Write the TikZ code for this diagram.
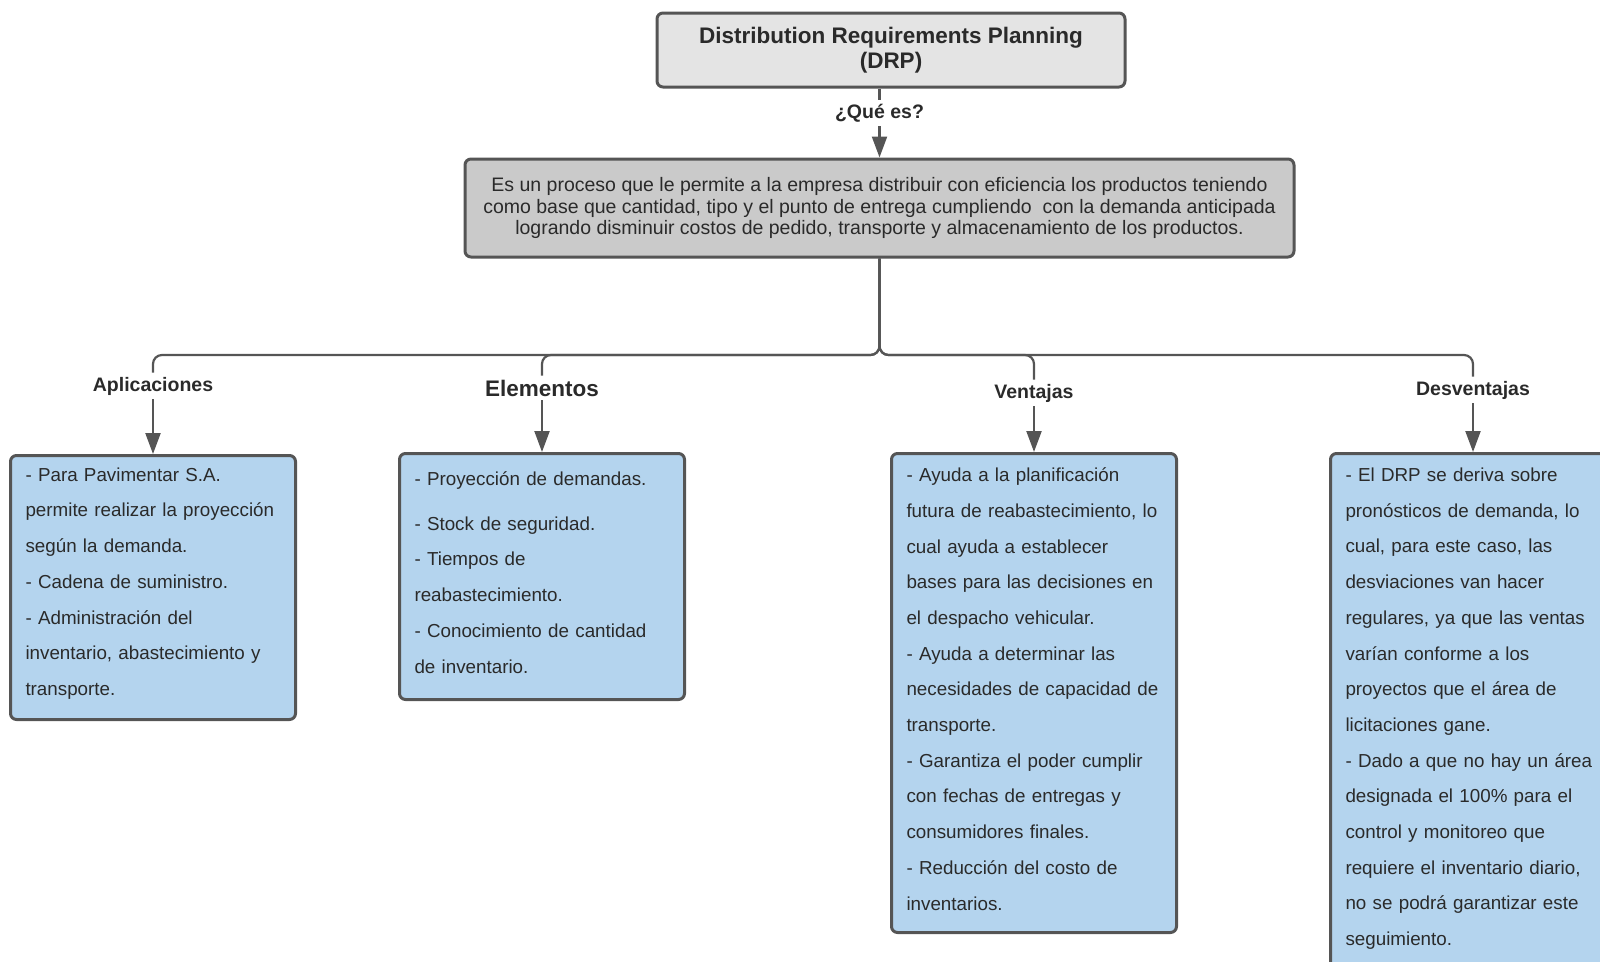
\documentclass[tikz,border=0pt]{standalone}
\usepackage{fontspec}
\setmainfont{Liberation Sans}
\usetikzlibrary{arrows.meta,calc}
\definecolor{edge}{HTML}{555555}
\definecolor{ink}{HTML}{2A2A2A}
\definecolor{titlefill}{HTML}{E4E4E4}
\definecolor{descfill}{HTML}{CACACA}
\definecolor{leaffill}{HTML}{B4D4EE}
% extra space under the last line of a list box
\newcommand\leafgap{\par\vspace{8pt}}

\begin{document}
\begin{tikzpicture}[x=1pt,y=-1pt,
  box/.style={draw=edge, line width=3pt, rounded corners=6pt, text=ink},
  titlebox/.style={box, fill=titlefill, font=\bfseries\fontsize{22.5}{25.5}\selectfont,
    align=center, minimum width=468pt, minimum height=74pt, inner sep=0pt},
  descbox/.style={box, fill=descfill, font=\fontsize{19.5}{21.4}\selectfont,
    align=center, minimum width=829pt, minimum height=98pt, inner sep=0pt},
  leaf/.style={box, fill=leaffill, font=\fontsize{18.8}{35.7}\selectfont,
    align=left, text width=255pt, inner xsep=15pt, inner ysep=0pt,
    minimum width=285pt, anchor=north, execute at end node=\leafgap},
  lbl/.style={font=\bfseries\fontsize{19.5}{22}\selectfont, text=ink, inner sep=4pt},
  conn/.style={draw=edge, line width=2.2pt, rounded corners=9pt},
  arr/.style={draw=edge, line width=2.2pt, -{Triangle[width=15pt,length=21pt]}},
]
\useasboundingbox (0,0) rectangle (1600,961);

% top of the map
\node[titlebox] (title) at (891,50) {Distribution Requirements Planning\\(DRP)};
\node[lbl] (q) at (879.5,113) {¿Qué es?};
\node[descbox] (desc) at (879.5,208) {Es un proceso que le permite a la empresa distribuir con eficiencia los productos teniendo\\
como base que cantidad, tipo y el punto de entrega cumpliendo\ \ con la demanda anticipada\\
logrando disminuir costos de pedido, transporte y almacenamiento de los productos.};
\draw[conn] (title.south -| q.north) -- (q.north);
\draw[arr] (q.south) -- (desc.north);

% branch labels
\node[lbl] (lA) at (153,386) {Aplicaciones};
\node[lbl, font=\bfseries\fontsize{22.5}{25}\selectfont] (lE) at (542,388) {Elementos};
\node[lbl] (lV) at (1034,393) {Ventajas};
\node[lbl] (lD) at (1473,390) {Desventajas};

% bus points
\coordinate (busA) at (153,355);
\coordinate (busE) at (542,355);
\coordinate (busV) at (1034,355);
\coordinate (busD) at (1473,355);

% leaf boxes
\node[leaf, minimum height=264pt] (bA) at (153,454) {- Para Pavimentar S.A.\\
permite realizar la proyección\\
según la demanda.\\
- Cadena de suministro.\\
- Administración del\\
inventario, abastecimiento y\\
transporte.};

\node[leaf, minimum height=246pt, execute at end node={}] (bE) at (542,452) {- Proyección de demandas.\\[9pt]
- Stock de seguridad.\\
- Tiempos de\\
reabastecimiento.\\
- Conocimiento de cantidad\\
de inventario.};

\node[leaf, minimum height=479pt] (bV) at (1034,452) {- Ayuda a la planificación\\
futura de reabastecimiento, lo\\
cual ayuda a establecer\\
bases para las decisiones en\\
el despacho vehicular.\\
- Ayuda a determinar las\\
necesidades de capacidad de\\
transporte.\\
- Garantiza el poder cumplir\\
con fechas de entregas y\\
consumidores finales.\\
- Reducción del costo de\\
inventarios.};

\node[leaf, minimum height=586pt] (bD) at (1473,452) {- El DRP se deriva sobre\\
pronósticos de demanda, lo\\
cual, para este caso, las\\
desviaciones van hacer\\
regulares, ya que las ventas\\
varían conforme a los\\
proyectos que el área de\\
licitaciones gane.\\
- Dado a que no hay un área\\
designada el 100\% para el\\
control y monitoreo que\\
requiere el inventario diario,\\
no se podrá garantizar este\\
seguimiento.\\
\mbox{}\\
\mbox{}};

% connectors
\draw[conn] (desc.south) |- (busA) -- (lA.north);
\draw[conn] (desc.south) |- (busE) -- (lE.north);
\draw[conn] (desc.south) |- (busV) -- (lV.north);
\draw[conn] (desc.south) |- (busD) -- (lD.north);
\draw[arr] (lA.south) -- (bA.north);
\draw[arr] (lE.south) -- (bE.north);
\draw[arr] (lV.south) -- (bV.north);
\draw[arr] (lD.south) -- (bD.north);
\end{tikzpicture}
\end{document}
